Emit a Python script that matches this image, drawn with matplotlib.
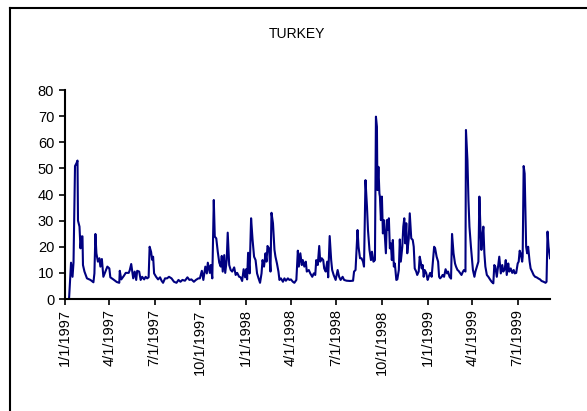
import numpy as np
import pandas as pd
import matplotlib
matplotlib.use("Agg")
import matplotlib.pyplot as plt
from matplotlib.lines import Line2D

plt.rcParams['font.family'] = ['Liberation Sans', 'DejaVu Sans']

title = "TURKEY"
start = pd.Timestamp("1997-01-01")

# days since 1/1/1997
days = [9, 13, 16, 18, 21, 24, 26, 27, 30, 32, 34, 36, 37, 40, 45, 52, 58, 60, 62, 64,
        67, 70, 72, 75, 78, 82, 86, 90, 92, 98, 105, 110, 111, 114, 119, 123, 129, 131, 134,
        138, 141, 144, 146, 150, 153, 156, 160, 163, 166, 169, 171, 174, 176, 178, 180, 184,
        188, 192, 195, 198, 202, 206, 210, 215, 220, 225, 229, 233, 237, 242, 247, 251, 255,
        260, 264, 269, 272, 276, 279, 283, 286, 288, 292, 294, 297, 300, 302, 305, 308, 311,
        314, 316, 318, 321, 323, 326, 328, 331, 334, 337, 341, 344, 347, 351, 354, 357, 360,
        363, 365, 367, 369, 372, 375, 378, 381, 384, 387, 390, 393, 396, 398, 401, 404, 406,
        408, 411, 414, 416, 419, 422, 424, 427, 430, 432, 435, 439, 442, 445, 449, 452, 455,
        459, 462, 466, 469, 471, 474, 477, 479, 482, 485, 487, 491, 494, 498, 501, 504, 506,
        509, 512, 514, 517, 520, 522, 525, 528, 530, 533, 536, 538, 541, 545, 549, 552, 555,
        559, 562, 567, 574, 580, 582, 585, 589, 591, 594, 597, 600, 602, 605, 608, 610, 613,
        616, 618, 621, 624, 626, 628, 629, 631, 633, 634, 636, 638, 640, 642, 644, 646, 648,
        650, 652, 654, 656, 658, 660, 662, 664, 667, 669, 672, 674, 676, 679, 681, 683, 685,
        687, 689, 692, 694, 697, 700, 702, 704, 707, 709, 712, 714, 716, 718, 720, 722, 724,
        727, 730, 732, 735, 738, 740, 743, 745, 748, 751, 753, 755, 758, 760, 763, 766, 769,
        771, 774, 777, 779, 782, 785, 787, 790, 792, 795, 798, 801, 803, 806, 807, 810, 812,
        814, 817, 819, 821, 824, 826, 829, 832, 834, 836, 838, 840, 842, 844, 846, 849, 852,
        856, 859, 862, 864, 866, 869, 872, 874, 877, 880, 882, 885, 887, 889, 892, 894, 897,
        900, 903, 905, 908, 911, 913, 915, 917, 920, 921, 923, 925, 927, 928, 930, 932, 935,
        937, 940, 943, 946, 949, 953, 956, 959, 963, 967, 969, 971, 973, 976]

values = [0, 13.9, 8.5, 14, 50.9, 52, 53, 30, 27.7, 19.4, 23.9, 24, 13, 10.5, 7.9, 7.3, 6.4, 9.8, 24.9, 17.5,
          14.3, 15.6, 12.4, 15.3, 8.5, 10.5, 12.4, 11.7, 8.3, 7.5, 6.5, 6.2, 10.8, 7.5, 8.8, 10, 10, 11, 13.4,
          7.9, 10.5, 7.3, 10.8, 10.5, 7.3, 8.5, 7.5, 8.5, 7.9, 8.3, 20, 18, 15, 16.2, 9.8, 8.5,
          7.5, 8.3, 7, 6.2, 7.9, 7.9, 8.5, 7.9, 6.6, 6.2, 7.3, 6.6, 7.3, 7, 8.3, 7.3, 7.5,
          6.6, 7.3, 7.9, 7.9, 10.8, 7.3, 12.4, 9.8, 13.9, 10, 13, 7.9, 37.9, 23.9, 23.2, 18.1, 13.9,
          12.4, 16.5, 10.5, 16.8, 10, 14.9, 25.4, 13, 11.1, 10.5, 12.1, 9.2, 10, 8.5, 8.3, 6.9, 11.4,
          8.3, 11.4, 7.5, 17.7, 9.8, 30.9, 22.6, 16.2, 14.9, 9.8, 7.9, 6.2, 9.8, 14.9, 12.4, 17.5, 14.3,
          20.3, 19.4, 10.5, 33, 29, 18.8, 16.2, 13.6, 10.5, 7.3, 7.9, 6.6, 7.9, 7, 7.9, 7.3, 7.5,
          6.6, 6.2, 7.3, 18.5, 12.4, 17.5, 13, 14.9, 12.4, 14.3, 10.5, 11.1, 9.8, 8.5, 9.8, 9.2, 14.9,
          13, 20.3, 14.3, 15.6, 14.9, 11.7, 10.5, 14.3, 8.3, 24.1, 14.9, 11.1, 9.2, 7.3, 11.1, 8.5, 7.3,
          8.5, 7.3, 7, 6.9, 7, 10.5, 11.1, 26.4, 20, 15.6, 15.6, 14.3, 12.4, 45.5, 35.3, 26.4, 18.8,
          14.9, 18.1, 14.3, 14.9, 69.8, 65.9, 41.7, 50.6, 40.4, 39.2, 30.2, 39.2, 25.1, 30.2, 23.9, 17.5, 30.2,
          26.4, 30.9, 19.4, 21.3, 14.9, 22.6, 12.4, 13.6, 7.3, 7.5, 11.1, 22.8, 14.3, 20, 27.7, 30.9, 21.3,
          29, 17.5, 23.2, 32.8, 23.2, 22.6, 20, 11.7, 10.5, 9.2, 10.5, 16.2, 14.3, 11.7, 13, 8.5, 11.1,
          10, 7.3, 8.5, 10, 8.5, 13, 20, 19.4, 16.2, 14.3, 8.5, 7.9, 8.5, 9.2, 8.5, 11.4, 9.8,
          10.5, 8.5, 7.8, 24.9, 17.5, 13.6, 12.4, 11.1, 10.8, 10, 9.2, 10.5, 11.1, 10.5, 64.7, 53, 37.9,
          27.7, 20, 15.6, 11.1, 8.5, 10.5, 12.4, 14.3, 39.2, 27.7, 18.8, 23.9, 27.7, 17.5, 12.4, 9.2, 8.5,
          7.3, 6.5, 6, 13, 12.4, 8.5, 13, 16.2, 9.8, 13, 10.5, 11.4, 14.9, 9.2, 13.6, 10.5, 11.7,
          10, 11.1, 9.8, 10, 13.6, 14.3, 18.5, 17.5, 14.3, 16.2, 50.9, 48, 30.2, 20, 17.5, 20, 14.3,
          11.7, 10.5, 9.2, 8.5, 8.3, 7.8, 7.5, 6.9, 6.6, 6.2, 6.6, 25.8, 20, 15.6]

tick_labels = ["1/1/1997", "4/1/1997", "7/1/1997", "10/1/1997", "1/1/1998", "4/1/1998",
               "7/1/1998", "10/1/1998", "1/1/1999", "4/1/1999", "7/1/1999"]

dates = start + pd.to_timedelta(days, unit="D")
tick_dates = pd.to_datetime(tick_labels, format="%m/%d/%Y")

fig = plt.figure(figsize=(5.87, 4.11), dpi=100)
ax = fig.add_axes([0.110, 0.2725, 0.827, 0.5085])

ax.plot(dates, values, color="#000080", lw=1.5)

ax.set_ylim(0, 80)
ax.set_yticks(range(0, 81, 10))
ax.set_xlim(start, start + pd.Timedelta(days=976))
ax.set_xticks(tick_dates)
ax.set_xticklabels(tick_labels, rotation=90)

for side in ["top", "right"]:
    ax.spines[side].set_visible(False)
for side in ["left", "bottom"]:
    ax.spines[side].set_linewidth(1.5)
ax.tick_params(axis="both", labelsize=10.5, width=1.2, length=4, direction="out")

fig.text(0.506, 0.918, title, ha="center", va="center", fontsize=10)

# outer chart frame (only left and top edges visible)
fig.add_artist(Line2D([0.017, 0.017], [0, 0.98], color="black", lw=1.5, transform=fig.transFigure))
fig.add_artist(Line2D([0.017, 1.0], [0.98, 0.98], color="black", lw=1.5, transform=fig.transFigure))

fig.savefig("out.png", dpi=100)
